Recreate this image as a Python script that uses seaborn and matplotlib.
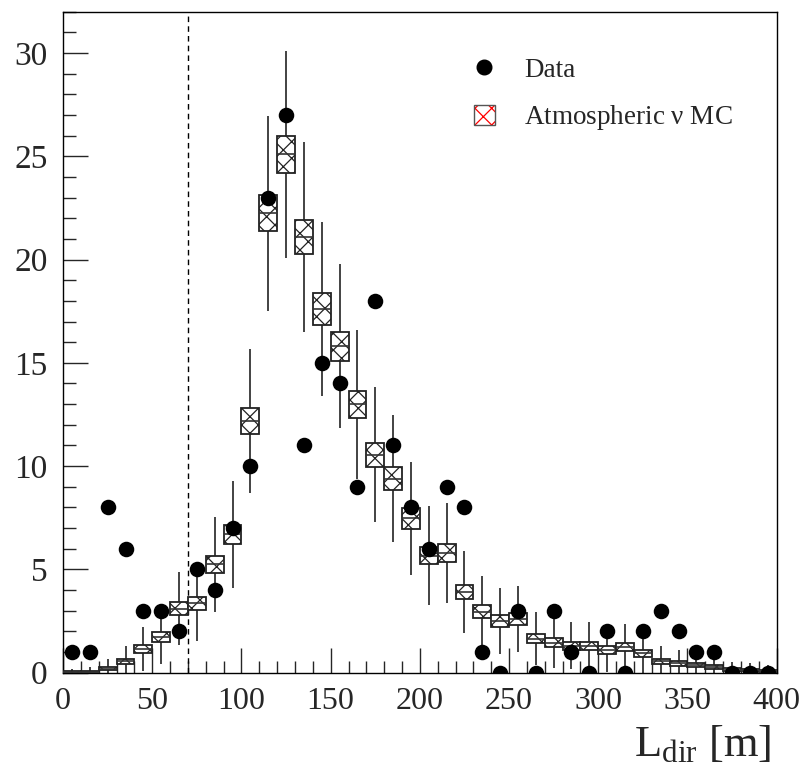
import numpy as np
import pandas as pd
import seaborn as sns
import matplotlib
matplotlib.use("Agg")
import matplotlib.pyplot as plt
from matplotlib.patches import Patch
from matplotlib.lines import Line2D
from matplotlib.legend_handler import HandlerTuple
from matplotlib.ticker import MultipleLocator

# ---- data ----
bin_centers = [5, 15, 25, 35, 45, 55, 65, 75, 85, 95, 105, 115, 125, 135, 145, 155,
               165, 175, 185, 195, 205, 215, 225, 235, 245, 255, 265, 275, 285, 295,
               305, 315, 325, 335, 345, 355, 365, 375, 385, 395]
data_counts = [1, 1, 8, 6, 3, 3, 2, 5, 4, 7, 10, 23, 27, 11, 15, 14,
               9, 18, 11, 8, 6, 9, 8, 1, 0, 3, 0, 3, 1, 0,
               2, 0, 2, 3, 2, 1, 1, 0, 0, 0]
mc_values = [0.03, 0.05, 0.2, 0.55, 1.15, 1.74, 3.1, 3.35, 5.25, 6.7, 12.2, 22.25, 25.1, 21.1, 17.6, 15.8,
             13.0, 10.56, 9.4, 7.47, 5.67, 5.8, 3.9, 2.95, 2.5, 2.6, 1.65, 1.45, 1.3, 1.3,
             1.1, 1.25, 0.95, 0.55, 0.45, 0.38, 0.27, 0.15, 0.12, 0.08]
mc_box_err = [0.03, 0.04, 0.08, 0.13, 0.19, 0.24, 0.32, 0.33, 0.41, 0.47, 0.63, 0.85, 0.9, 0.83, 0.76, 0.71,
              0.65, 0.58, 0.55, 0.49, 0.43, 0.43, 0.35, 0.31, 0.28, 0.29, 0.23, 0.22, 0.21, 0.21,
              0.19, 0.2, 0.17, 0.13, 0.12, 0.11, 0.09, 0.07, 0.06, 0.05]
stat_err = [0.17, 0.22, 0.45, 0.74, 1.07, 1.32, 1.76, 1.83, 2.29, 2.59, 3.49, 4.72, 5.01, 4.59, 4.2, 3.97,
            3.61, 3.25, 3.07, 2.73, 2.38, 2.41, 1.97, 1.72, 1.58, 1.61, 1.28, 1.2, 1.14, 1.14,
            1.05, 1.12, 0.97, 0.74, 0.67, 0.62, 0.52, 0.39, 0.35, 0.28]
cut_position = 70
bin_width = 10

df = pd.DataFrame({"x": bin_centers, "data": data_counts, "mc": mc_values,
                   "mcerr": mc_box_err, "err": stat_err})

sns.set_style("ticks")
plt.rcParams["font.family"] = ["Liberation Serif", "DejaVu Serif"]
plt.rcParams["mathtext.fontset"] = "custom"
plt.rcParams["mathtext.rm"] = "Liberation Serif"
plt.rcParams["mathtext.it"] = "Liberation Serif:italic"
plt.rcParams["hatch.linewidth"] = 0.9

fig = plt.figure(figsize=(8.09, 7.75), dpi=100)
ax = fig.add_axes([0.078, 0.132, 0.882, 0.853])

# vertical error bars (statistical, around MC)
ax.vlines(df["x"], df["mc"] - df["err"], df["mc"] + df["err"], color="#222222", lw=1.2, zorder=2)

# MC boxes
ax.bar(df["x"], 2 * df["mcerr"], bottom=df["mc"] - df["mcerr"], width=bin_width,
       facecolor="white", edgecolor="#222222", hatch="xx", linewidth=1.3, zorder=3)
ax.hlines(df["mc"], df["x"] - bin_width / 2, df["x"] + bin_width / 2, color="#333333", lw=1.2, zorder=4)

# data points
sns.scatterplot(data=df, x="x", y="data", ax=ax, color="black", s=125, edgecolor="black",
                linewidth=0, zorder=5, legend=False)

ax.axvline(cut_position, color="black", ls=(0, (4, 3)), lw=1.0, zorder=1)

ax.set_xlim(0, 400)
ax.set_ylim(0, 32)
ax.xaxis.set_major_locator(MultipleLocator(50))
ax.xaxis.set_minor_locator(MultipleLocator(10))
ax.yaxis.set_major_locator(MultipleLocator(5))
ax.yaxis.set_minor_locator(MultipleLocator(1))
ax.tick_params(axis="both", which="major", direction="in", length=18, width=1.0,
               top=False, right=False)
ax.tick_params(axis="both", which="minor", direction="in", length=9, width=1.0,
               top=False, right=False)
ax.tick_params(axis="x", which="major", pad=10, labelsize=23)
ax.tick_params(axis="y", which="major", pad=11, labelsize=24)
for s in ax.spines.values():
    s.set_visible(True)
    s.set_linewidth(1.0)
    s.set_color("black")

ax.set_xlabel(r"$\mathrm{L_{dir}}$ [m]", fontsize=32, labelpad=2)
ax.xaxis.set_label_coords(0.992, -0.078)
ax.xaxis.label.set_horizontalalignment("right")
ax.xaxis.label.set_verticalalignment("top")
ax.set_ylabel("")

h_data = Line2D([], [], marker="o", color="black", ls="none", markersize=10.5)
h_mc = (Patch(facecolor="white", edgecolor="red", hatch="xx", lw=0),
        Patch(fill=False, edgecolor="#555555", lw=1.0))
ax.legend([h_data, h_mc], ["Data", r"Atmospheric $\mathrm{\nu}$ MC"],
          handler_map={tuple: HandlerTuple(ndivide=1, pad=0)},
          loc="upper left", bbox_to_anchor=(0.542, 0.967), frameon=False,
          fontsize=19.5, handlelength=0.75, handleheight=0.75, handletextpad=1.1,
          labelspacing=0.75)

fig.savefig("out.png", dpi=100)
